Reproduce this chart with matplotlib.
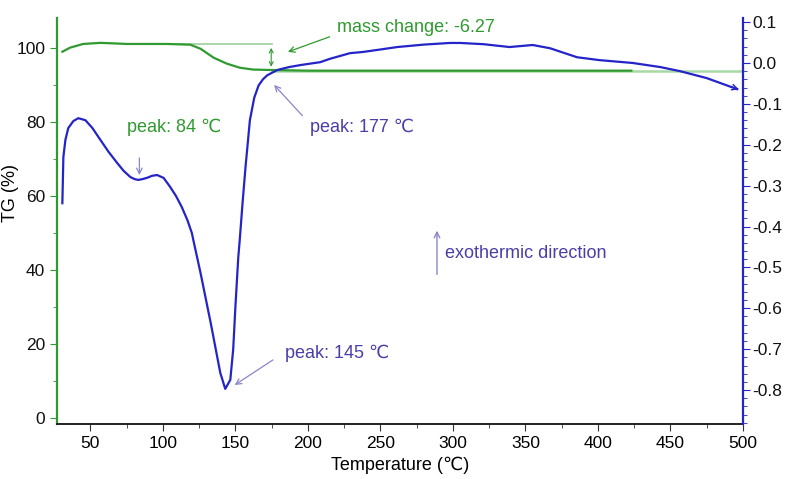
import matplotlib
matplotlib.use("Agg")
from matplotlib import pyplot as plt
from matplotlib.ticker import MultipleLocator

plt.rcParams['font.family'] = ['Liberation Sans', 'DejaVu Sans']

# TG curve (left axis, %)
tg_temp = [30.7, 36, 45, 57, 75.5, 90, 103, 119, 126, 135, 144, 153, 162, 172, 200, 250, 300, 350, 400, 423]
tg_val = [98.9, 100.0, 101.0, 101.3, 101.0, 101.0, 101.0, 100.8, 99.7, 97.3, 95.7, 94.6, 94.1, 94.0, 93.8, 93.8, 93.8, 93.8, 93.8, 93.8]

# DSC curve (right axis)
dsc_temp = [30.7, 31.4, 32.8, 34.8, 38.3, 41.7, 46.6, 51.4, 56.9, 62.5, 68.6, 73, 77.6, 80.5, 83, 86, 89, 92.5,
            96, 100.5, 105, 109, 113, 117, 120, 121, 126, 133, 139.6, 143, 146.5, 148.5, 150, 152, 153, 155,
            157, 160, 163, 166, 169, 172, 179, 187, 195, 208.5, 215, 229, 238, 250, 261.6, 280, 298, 305, 321, 339,
            355, 367, 385.6, 401, 424, 443, 456.6, 475, 496]
dsc_val = [-0.343, -0.23, -0.188, -0.159, -0.142, -0.135, -0.140, -0.159, -0.188, -0.217, -0.245, -0.264, -0.279,
           -0.284, -0.286, -0.284, -0.281, -0.276, -0.274, -0.281, -0.303, -0.325, -0.352, -0.385, -0.416, -0.433,
           -0.514, -0.636, -0.758, -0.797, -0.775, -0.70, -0.597, -0.475, -0.433, -0.34, -0.254, -0.140, -0.085,
           -0.055, -0.040, -0.030, -0.017, -0.010, -0.005, 0.002, 0.010, 0.024, 0.027, 0.033, 0.039, 0.045, 0.049,
           0.049, 0.046, 0.039, 0.044, 0.036, 0.014, 0.007, 0.0, -0.010, -0.020, -0.037, -0.064]

# mass change guide lines
mass_before = 101.0
mass_after = 93.8

green = '#2f9a2f'
blue = '#2424c8'
txt_blue = '#4a3fa8'
arr_blue = '#8a86c8'

fig = plt.figure(figsize=(7.85, 4.79), dpi=100)
ax = fig.add_axes([0.0726, 0.1148, 0.8739, 0.8476])
ax2 = ax.twinx()

ax.plot([110, 175], [mass_before, mass_before], color='#9ccf9c', lw=1.2)
ax.plot([175, 500], [mass_after, mass_after], color='#a8d8a8', lw=1.8)
ax.plot(tg_temp, tg_val, color=green, lw=1.6)
ax2.plot(dsc_temp, dsc_val, color=blue, lw=1.6)
ax2.annotate('', xy=(499, -0.067), xytext=(490, -0.056),
             arrowprops=dict(arrowstyle='->', color=blue, lw=1.0))

ax.set_xlim(27, 500)
ax.set_ylim(-1.5, 108)
ax2.set_ylim(-0.883, 0.11)

ax.xaxis.set_major_locator(MultipleLocator(50))
ax.xaxis.set_minor_locator(MultipleLocator(25))
ax.yaxis.set_major_locator(MultipleLocator(20))
ax.yaxis.set_minor_locator(MultipleLocator(10))
ax2.yaxis.set_major_locator(MultipleLocator(0.1))
ax2.yaxis.set_minor_locator(MultipleLocator(0.02))
ax2.yaxis.set_major_formatter(plt.FuncFormatter(lambda v, p: '%.1f' % v if abs(v) > 1e-9 else '0.0'))

for a in (ax, ax2):
    a.spines['top'].set_visible(False)
ax.spines['right'].set_visible(False)
ax2.spines['left'].set_visible(False)
ax2.spines['bottom'].set_visible(False)
ax.spines['left'].set_color(green)
ax.spines['left'].set_linewidth(1.6)
ax2.spines['right'].set_color(blue)
ax2.spines['right'].set_linewidth(1.6)
ax.spines['bottom'].set_color('#222222')
ax.spines['bottom'].set_linewidth(1.4)

ax.tick_params(axis='both', which='major', labelsize=12.5, length=5, color='#333333')
ax.tick_params(axis='both', which='minor', length=3, color='#333333')
ax.tick_params(axis='y', which='both', colors=green, labelcolor='#111111')
ax2.tick_params(axis='y', which='major', labelsize=12.5, length=5, colors=blue, labelcolor='#111111', pad=2)
ax2.tick_params(axis='y', which='minor', length=3, colors=blue)

ax.set_xlabel('Temperature (℃)', fontsize=13, labelpad=4)
ax.set_ylabel('TG (%)', fontsize=13)
ax.yaxis.set_label_coords(-0.056, 0.57)

# annotations
ax.text(220, 105.4, 'mass change: -6.27', color=green, fontsize=13, va='center', ha='left')
ax.annotate('', xy=(184.4, 98.6), xytext=(216.8, 103.2),
            arrowprops=dict(arrowstyle='->', color=green, lw=0.9))
ax.annotate('', xy=(174.7, mass_after + 0.3), xytext=(174.7, mass_before - 0.3),
            arrowprops=dict(arrowstyle='<->', color=green, lw=0.8, mutation_scale=7))

ax.text(75.5, 78.4, 'peak: 84 ℃', color=green, fontsize=13, va='center', ha='left')
ax.annotate('', xy=(83.8, 64.9), xytext=(83.8, 71.0),
            arrowprops=dict(arrowstyle='->', color=arr_blue, lw=0.9))

ax.text(201.6, 78.4, 'peak: 177 ℃', color=txt_blue, fontsize=13, va='center', ha='left')
ax.annotate('', xy=(175.4, 90.5), xytext=(197.5, 81.1),
            arrowprops=dict(arrowstyle='->', color=arr_blue, lw=0.9))

ax.text(184.4, 17.6, 'peak: 145 ℃', color=txt_blue, fontsize=13, va='center', ha='left')
ax.annotate('', xy=(147.9, 8.6), xytext=(177.5, 16.2),
            arrowprops=dict(arrowstyle='->', color=arr_blue, lw=0.9))

ax.text(294.7, 44.6, 'exothermic direction', color=txt_blue, fontsize=13, va='center', ha='left')
ax.annotate('', xy=(289, 51.4), xytext=(289, 38.1),
            arrowprops=dict(arrowstyle='->', color=arr_blue, lw=1.0))

plt.savefig('out.png', dpi=100)
